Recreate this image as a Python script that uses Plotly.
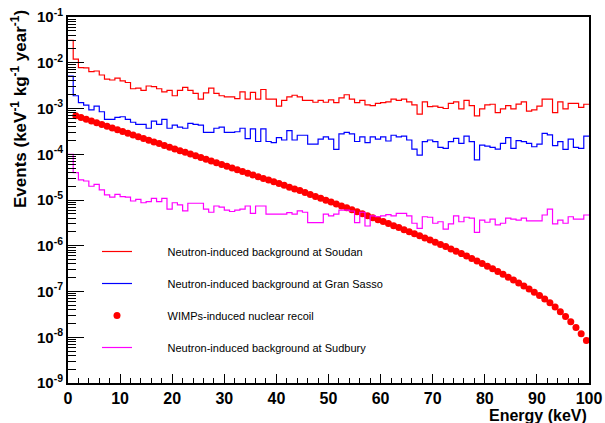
import numpy as np
import plotly.graph_objects as go

# ---------------- data ----------------
bin_edges = list(range(0, 101))          # keV, 1 keV bins (0..100)

soudan = [3.1e-2, 1.2e-2, 7.8e-3, 7.7e-3, 6.4e-3, 6.6e-3, 5.4e-3, 4.4e-3, 4.2e-3, 4.6e-3,
          4.0e-3, 3.7e-3, 2.7e-3, 2.8e-3, 2.5e-3, 3.1e-3, 3.0e-3, 2.7e-3, 2.3e-3, 2.5e-3,
          1.9e-3, 2.5e-3, 2.9e-3, 2.5e-3, 2.15e-3, 1.6e-3, 2.2e-3, 2.8e-3, 2.15e-3, 1.9e-3,
          1.8e-3, 1.8e-3, 1.65e-3, 2.3e-3, 1.6e-3, 2.25e-3, 1.6e-3, 2.6e-3, 1.6e-3, 1.6e-3,
          1.13e-3, 1.5e-3, 1.8e-3, 1.95e-3, 1.8e-3, 1.5e-3, 1.5e-3, 1.37e-3, 1.5e-3, 1.37e-3,
          1.55e-3, 1.34e-3, 1.7e-3, 2.0e-3, 1.6e-3, 1.34e-3, 1.5e-3, 1.2e-3, 1.15e-3, 1.3e-3,
          1.34e-3, 1.4e-3, 1.6e-3, 1.5e-3, 1.6e-3, 1.4e-3, 1.2e-3, 7.5e-4, 1.4e-3, 1.1e-3,
          1.13e-3, 1.06e-3, 1.0e-3, 1.3e-3, 1.4e-3, 9.8e-4, 1.5e-3, 1.15e-3, 6.9e-4, 9.8e-4,
          1.2e-3, 1.24e-3, 8.1e-4, 9.8e-4, 1.15e-3, 9.8e-4, 1.25e-3, 1.4e-3, 8.8e-4, 9.3e-4,
          1.13e-3, 1.6e-3, 1.6e-3, 8.1e-4, 1.4e-3, 9.8e-4, 1.3e-3, 1.3e-3, 1.06e-3, 1.24e-3]

gran_sasso = [5.1e-3, 1.9e-3, 1.34e-3, 1.19e-3, 9.3e-4, 1.13e-3, 8.5e-4, 5.8e-4, 5.8e-4, 6.4e-4,
              6.6e-4, 5.8e-4, 5.0e-4, 4.5e-4, 4.5e-4, 3.7e-4, 5.3e-4, 4.5e-4, 5.8e-4, 3.7e-4,
              4.35e-4, 3.9e-4, 3.7e-4, 4.75e-4, 4.5e-4, 4.35e-4, 3.0e-4, 3.0e-4, 3.7e-4, 3.9e-4,
              3.0e-4, 3.0e-4, 3.1e-4, 3.7e-4, 2.2e-4, 3.6e-4, 1.9e-4, 3.6e-4, 1.9e-4, 1.8e-4,
              2.3e-4, 2.05e-4, 3.3e-4, 2.05e-4, 2.6e-4, 2.6e-4, 1.67e-4, 1.67e-4, 2.15e-4, 2.4e-4,
              2.15e-4, 1.28e-4, 2.8e-4, 3.0e-4, 2.8e-4, 1.9e-4, 2.4e-4, 1.8e-4, 2.4e-4, 2.15e-4,
              2.4e-4, 1.95e-4, 2.6e-4, 2.4e-4, 2.5e-4, 2.05e-4, 1.3e-4, 9.6e-5, 1.88e-4, 2.05e-4,
              1.88e-4, 1.42e-4, 1.35e-4, 1.88e-4, 2.23e-4, 1.73e-4, 2.5e-4, 1.88e-4, 7.5e-5, 1.59e-4,
              1.51e-4, 1.42e-4, 1.3e-4, 1.73e-4, 2.3e-4, 1.35e-4, 1.98e-4, 1.88e-4, 1.73e-4, 1.46e-4,
              1.67e-4, 2.87e-4, 2.64e-4, 1.54e-4, 1.88e-4, 1.28e-4, 2.15e-4, 1.42e-4, 1.35e-4, 2.5e-4]

sudbury = [1.0e-4, 3.95e-5, 2.75e-5, 2.6e-5, 2.0e-5, 2.2e-5, 1.66e-5, 1.3e-5, 1.15e-5, 1.33e-5,
           1.18e-5, 1.15e-5, 9.5e-6, 1.03e-5, 8.7e-6, 9.2e-6, 1.09e-5, 9.2e-6, 1.09e-5, 6.3e-6,
           8.7e-6, 7.8e-6, 5.8e-6, 8.5e-6, 8.5e-6, 8.5e-6, 6.3e-6, 5.4e-6, 7.4e-6, 7.0e-6,
           6.0e-6, 5.6e-6, 6.0e-6, 6.3e-6, 7.4e-6, 5.1e-6, 7.4e-6, 7.4e-6, 4.9e-6, 4.9e-6,
           4.9e-6, 4.9e-6, 5.3e-6, 4.9e-6, 5.8e-6, 5.4e-6, 3.2e-6, 3.2e-6, 3.2e-6, 4.9e-6,
           4.5e-6, 4.9e-6, 6.0e-6, 6.0e-6, 5.75e-6, 3.2e-6, 5.4e-6, 2.7e-6, 4.5e-6, 4.3e-6,
           4.5e-6, 4.8e-6, 4.5e-6, 5.1e-6, 5.1e-6, 4.5e-6, 3.1e-6, 2.4e-6, 4.3e-6, 4.2e-6,
           3.1e-6, 3.35e-6, 2.3e-6, 3.0e-6, 4.5e-6, 3.35e-6, 4.2e-6, 4.0e-6, 1.97e-6, 3.65e-6,
           3.26e-6, 3.8e-6, 2.85e-6, 3.1e-6, 4.0e-6, 3.8e-6, 3.65e-6, 4.0e-6, 3.5e-6, 3.5e-6,
           3.5e-6, 4.7e-6, 6.3e-6, 3.0e-6, 3.65e-6, 3.1e-6, 4.3e-6, 3.8e-6, 3.8e-6, 4.7e-6]

wimp_energy = [1.5 + i for i in range(99)]   # keV (bin centres)
wimp_rate = [6.92e-4, 6.34e-4, 5.81e-4, 5.32e-4, 4.88e-4, 4.47e-4, 4.09e-4, 3.75e-4, 3.44e-4, 3.15e-4,
             2.88e-4, 2.64e-4, 2.42e-4, 2.22e-4, 2.03e-4, 1.86e-4, 1.71e-4, 1.56e-4, 1.43e-4, 1.31e-4,
             1.20e-4, 1.10e-4, 1.01e-4, 9.25e-5, 8.47e-5, 7.76e-5, 7.11e-5, 6.52e-5, 5.97e-5, 5.47e-5,
             5.01e-5, 4.59e-5, 4.21e-5, 3.85e-5, 3.53e-5, 3.24e-5, 2.96e-5, 2.72e-5, 2.49e-5, 2.28e-5,
             2.09e-5, 1.91e-5, 1.75e-5, 1.61e-5, 1.46e-5, 1.32e-5, 1.20e-5, 1.09e-5, 9.91e-6, 8.99e-6,
             8.17e-6, 7.41e-6, 6.73e-6, 6.11e-6, 5.53e-6, 5.01e-6, 4.54e-6, 4.11e-6, 3.72e-6, 3.37e-6,
             3.05e-6, 2.75e-6, 2.49e-6, 2.25e-6, 2.03e-6, 1.83e-6, 1.65e-6, 1.48e-6, 1.33e-6, 1.20e-6,
             1.07e-6, 9.57e-7, 8.53e-7, 7.59e-7, 6.73e-7, 5.96e-7, 5.26e-7, 4.63e-7, 4.07e-7, 3.57e-7,
             3.13e-7, 2.73e-7, 2.38e-7, 2.06e-7, 1.78e-7, 1.54e-7, 1.32e-7, 1.13e-7, 9.62e-8, 8.13e-8,
             6.82e-8, 5.68e-8, 4.57e-8, 3.63e-8, 2.85e-8, 2.19e-8, 1.64e-8, 1.20e-8, 8.51e-9]

x_tick_vals = [0, 10, 20, 30, 40, 50, 60, 70, 80, 90, 100]
y_exponents = [-9, -8, -7, -6, -5, -4, -3, -2, -1]

labels = ["Neutron-induced background at Soudan",
          "Neutron-induced background at Gran Sasso",
          "WIMPs-induced nuclear recoil",
          "Neutron-induced background at Sudbury"]

# ---------------- figure ----------------
FONT = "Liberation Sans, Arial, Helvetica, sans-serif"
W, H = 605, 423
L, R, T, B = 68, 16, 17, 40
pw, ph = W - L - R, H - T - B

PAD = "\u00a0" * 10

def step(vals):
    return vals + [vals[-1]]

fig = go.Figure()
fig.add_trace(go.Scatter(x=bin_edges, y=step(soudan), mode="lines", line_shape="hv",
                         line=dict(color="#ff0000", width=1.2), name=PAD + labels[0],
                         legendgroup="a"))
fig.add_trace(go.Scatter(x=bin_edges, y=step(gran_sasso), mode="lines", line_shape="hv",
                         line=dict(color="#0000ff", width=1.2), name=PAD + labels[1],
                         legendgroup="b"))
fig.add_trace(go.Scatter(x=wimp_energy, y=wimp_rate, mode="markers",
                         marker=dict(color="#ff0000", size=7, line=dict(width=0)),
                         name=PAD + labels[2], legendgroup="c"))
fig.add_trace(go.Scatter(x=bin_edges, y=step(sudbury), mode="lines", line_shape="hv",
                         line=dict(color="#ff00ff", width=1.2), name=PAD + labels[3],
                         legendgroup="d"))

y_minor = [m * 10.0 ** e for e in range(-9, -1) for m in range(2, 10)]

fig.update_layout(
    template="none",
    width=W, height=H,
    margin=dict(l=L, r=R, t=T, b=B, pad=0, autoexpand=False),
    paper_bgcolor="white", plot_bgcolor="white",
    font=dict(family=FONT, color="black"),
    showlegend=True,
    legend=dict(x=(97 - L) / pw, y=(383 - 237) / ph, xanchor="left", yanchor="top",
                bgcolor="rgba(0,0,0,0)", borderwidth=0, font=dict(size=11, family=FONT),
                tracegroupgap=13, traceorder="grouped", itemwidth=30),
    xaxis=dict(range=[0, 100], showgrid=False, zeroline=False, automargin=False,
               showline=True, mirror=True, linecolor="black", linewidth=2,
               ticks="inside", ticklen=9, tickwidth=1.2, tickcolor="black",
               tickvals=x_tick_vals, ticktext=[f"<b>{v}</b>" for v in x_tick_vals],
               tickfont=dict(size=16, family=FONT),
               minor=dict(ticks="inside", ticklen=5, tickwidth=1.2, tickcolor="black",
                          dtick=2, showgrid=False)),
    yaxis=dict(type="log", range=[-9, -1], showgrid=False, zeroline=False, automargin=False,
               showline=True, mirror=True, linecolor="black", linewidth=2,
               ticks="inside", ticklen=16, tickwidth=1.2, tickcolor="black",
               tickvals=[10.0 ** e for e in y_exponents],
               ticktext=[f"<b>10<sup>{e}</sup></b>" for e in y_exponents],
               tickfont=dict(size=15, family=FONT),
               minor=dict(ticks="inside", ticklen=8, tickwidth=1.2, tickcolor="black",
                          tickmode="array", tickvals=y_minor, showgrid=False)),
)

fig.add_annotation(text="<b>Energy (keV)</b>", xref="paper", yref="paper",
                   x=(589 - L) / pw, y=(383 - 415) / ph, xanchor="right", yanchor="middle",
                   showarrow=False, font=dict(size=16, family=FONT))
fig.add_annotation(text="<b>Events (keV<sup>-1</sup> kg<sup>-1</sup> year<sup>-1</sup>)</b>",
                   xref="paper", yref="paper", textangle=-90,
                   x=(19 - L) / pw, y=(383 - 8) / ph, xanchor="center", yanchor="top",
                   showarrow=False, font=dict(size=17, family=FONT))

fig.write_html("out.html", config={"displayModeBar": False},
               post_script="document.body.style.margin='0px';document.body.style.overflow='hidden';")
